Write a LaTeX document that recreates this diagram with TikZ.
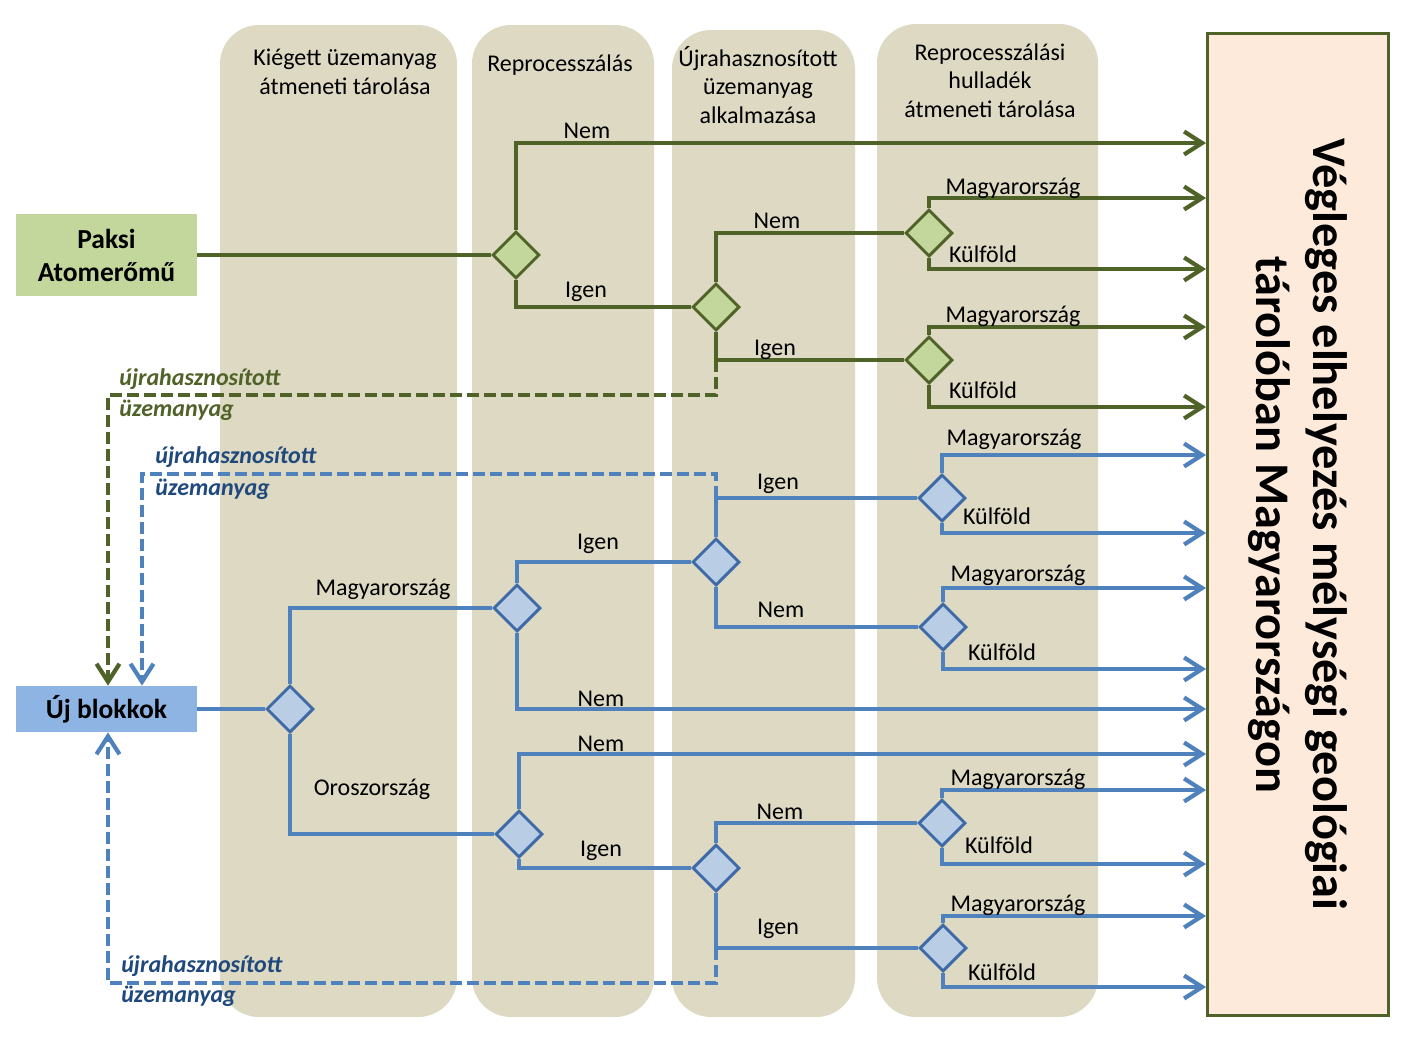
\documentclass[tikz,border=0pt]{standalone}
\usepackage{fontspec}
\setmainfont{Carlito}
\usetikzlibrary{shapes.geometric,arrows.meta}

\definecolor{grn}{HTML}{4F6228}
\definecolor{gfill}{HTML}{C3D69B}
\definecolor{blu}{HTML}{4F81BD}
\definecolor{bdark}{HTML}{3E6AA8}
\definecolor{bfill}{HTML}{B9CDE5}
\definecolor{ubfill}{HTML}{8EB4E3}
\definecolor{btext}{HTML}{1F497D}
\definecolor{colbg}{HTML}{DDD9C3}
\definecolor{vbfill}{HTML}{FDEADA}

\tikzset{
  gline/.style={grn, line width=2.4pt},
  bline/.style={blu, line width=2.4pt},
  gdash/.style={gline, dash pattern=on 0.24cm off 0.1cm},
  bdash/.style={bline, dash pattern=on 0.24cm off 0.1cm},
  arrowend/.style={-{Straight Barb[length=0.36cm,width=0.46cm]}},
  gdia/.style={diamond, draw=grn, fill=gfill, line width=1.7pt, inner sep=0pt,
    minimum width=0.94cm, minimum height=0.94cm},
  bdia/.style={diamond, draw=bdark, fill=bfill, line width=1.7pt, inner sep=0pt,
    minimum width=0.94cm, minimum height=0.94cm},
  lbl/.style={anchor=base, inner sep=0pt, font=\fontsize{13.66}{16.2}\selectfont},
  head/.style={lbl, align=center},
  recyc/.style={anchor=base west, inner sep=0pt, font=\bfseries\itshape\fontsize{13.66}{16.2}\selectfont},
  src/.style={minimum width=3.62cm, align=center, inner sep=0pt,
    font=\bfseries\fontsize{15.65}{18.8}\selectfont}
}

\begin{document}
\begin{tikzpicture}[x=0.02cm,y=-0.02cm]
\useasboundingbox (0,0) rectangle (1428,1049);

% columns
\fill[colbg, rounded corners=0.78cm] (220,25) rectangle (457,1017);
\fill[colbg, rounded corners=0.78cm] (472,25) rectangle (654,1017);
\fill[colbg, rounded corners=0.78cm] (672,30) rectangle (855,1017);
\fill[colbg, rounded corners=0.78cm] (877,24) rectangle (1098,1017);

% headers (base = last line)
\node[head] (h1) at (345,94) {Kiégett üzemanyag\\átmeneti tárolása};
\node[head] (h2) at (560,71) {Reprocesszálás};
\node[head] (h3) at (758,123) {Újrahasznosított\\üzemanyag\\alkalmazása};
\node[head] (h4) at (990,117) {Reprocesszálási\\hulladék\\átmeneti tárolása};

% final storage
\node[rotate=-90, draw=grn, line width=1.7pt, fill=vbfill, minimum width=19.64cm,
  minimum height=3.63cm, align=center,
  font=\bfseries\fontsize{27.5}{32.4}\selectfont] (vb) at (1298.25,524.5)
  {Végleges elhelyezés mélységi geológiai\\tárolóban Magyarországon};

% sources
\node[src, fill=gfill, minimum height=1.66cm] (pa) at (106.5,255) {Paksi\\Atomerőmű};
\node[src, fill=ubfill, minimum height=0.92cm] (ub) at (106.5,709) {Új blokkok};

% decisions
\node[gdia] (d1) at (516,255) {};
\node[gdia] (d2) at (716,307) {};
\node[gdia] (d3) at (929,233) {};
\node[gdia] (d4) at (929,360) {};
\node[bdia] (d5) at (290,709) {};
\node[bdia] (d6) at (517,608) {};
\node[bdia] (d7) at (519,834) {};
\node[bdia] (d8) at (716,562) {};
\node[bdia] (d9) at (942,498) {};
\node[bdia] (d10) at (943,627) {};
\node[bdia] (d11) at (716,868) {};
\node[bdia] (d12) at (942,823) {};
\node[bdia] (d13) at (943,948) {};

% branch levels
\coordinate (g0) at (1000,143);
\coordinate (g3m) at (1000,198);
\coordinate (g3k) at (1000,269);
\coordinate (g4m) at (1000,327);
\coordinate (g4k) at (1000,407);
\coordinate (b9m) at (1000,455);
\coordinate (b9k) at (1000,533);
\coordinate (b10m) at (1000,588);
\coordinate (b10k) at (1000,669);
\coordinate (b6n) at (1000,709);
\coordinate (b7n) at (1000,754);
\coordinate (b12m) at (1000,790);
\coordinate (b12k) at (1000,864);
\coordinate (b13m) at (1000,916);
\coordinate (b13k) at (1000,987);
\coordinate (gr) at (108,395);
\coordinate (br1) at (142,474);
\coordinate (br2) at (108,983);

% green tree
\draw[gline] (pa.east) -- (d1.west);
\draw[gline,arrowend] (d1.north) |- (g0 -| vb.south);
\draw[gline] (d1.south) |- (d2.west);
\draw[gline] (d2.north) |- (d3.west);
\draw[gline] (d2.south) |- (d4.west);
\draw[gline,arrowend] (d3.north) |- (g3m -| vb.south);
\draw[gline,arrowend] (d3.south) |- (g3k -| vb.south);
\draw[gline,arrowend] (d4.north) |- (g4m -| vb.south);
\draw[gline,arrowend] (d4.south) |- (g4k -| vb.south);
\draw[gdash,arrowend] (d2.south |- d4.west) |- (gr) -- (gr |- ub.north);

% blue tree
\draw[bline] (ub.east) -- (d5.west);
\draw[bline] (d5.north) |- (d6.west);
\draw[bline] (d5.south) |- (d7.west);
\draw[bline] (d6.north) |- (d8.west);
\draw[bline,arrowend] (d6.south) |- (b6n -| vb.south);
\draw[bline] (d8.north) |- (d9.west);
\draw[bline] (d8.south) |- (d10.west);
\draw[bline,arrowend] (d9.north) |- (b9m -| vb.south);
\draw[bline,arrowend] (d9.south) |- (b9k -| vb.south);
\draw[bline,arrowend] (d10.north) |- (b10m -| vb.south);
\draw[bline,arrowend] (d10.south) |- (b10k -| vb.south);
\draw[bline,arrowend] (d7.north) |- (b7n -| vb.south);
\draw[bline] (d7.south) |- (d11.west);
\draw[bline] (d11.north) |- (d12.west);
\draw[bline] (d11.south) |- (d13.west);
\draw[bline,arrowend] (d12.north) |- (b12m -| vb.south);
\draw[bline,arrowend] (d12.south) |- (b12k -| vb.south);
\draw[bline,arrowend] (d13.north) |- (b13m -| vb.south);
\draw[bline,arrowend] (d13.south) |- (b13k -| vb.south);
\draw[bdash,arrowend] (d8.north |- d9.west) |- (br1) -- (br1 |- ub.north);
\draw[bdash,arrowend] (d11.south |- d13.west) |- (br2) -- (br2 |- ub.south);

% labels
\node[lbl] (l1) at (587,138) {Nem};
\node[lbl] (l2) at (586,297) {Igen};
\node[lbl] (l3) at (777,228) {Nem};
\node[lbl] (l4) at (775,355) {Igen};
\node[lbl] (l5) at (1013,194) {Magyarország};
\node[lbl] (l6) at (983,262) {Külföld};
\node[lbl] (l7) at (1013,322) {Magyarország};
\node[lbl] (l8) at (983,398) {Külföld};
\node[lbl] (l9) at (383,595) {Magyarország};
\node[lbl] (l10) at (372,795) {Oroszország};
\node[lbl] (l11) at (598,549) {Igen};
\node[lbl] (l12) at (601,706) {Nem};
\node[lbl] (l13) at (601,751) {Nem};
\node[lbl] (l14) at (601,856) {Igen};
\node[lbl] (l15) at (778,489) {Igen};
\node[lbl] (l16) at (781,617) {Nem};
\node[lbl] (l17) at (780,819) {Nem};
\node[lbl] (l18) at (778,934) {Igen};
\node[lbl] (l19) at (1014,445) {Magyarország};
\node[lbl] (l20) at (997,524) {Külföld};
\node[lbl] (l21) at (1018,581) {Magyarország};
\node[lbl] (l22) at (1002,660) {Külföld};
\node[lbl] (l23) at (1018,785) {Magyarország};
\node[lbl] (l24) at (999,853) {Külföld};
\node[lbl] (l25) at (1018,911) {Magyarország};
\node[lbl] (l26) at (1002,980) {Külföld};

\node[recyc, grn] (r1) at (119,385) {újrahasznosított};
\node[recyc, grn] (r2) at (119,416) {üzemanyag};
\node[recyc, btext] (r3) at (155,463) {újrahasznosított};
\node[recyc, btext] (r4) at (155,495) {üzemanyag};
\node[recyc, btext] (r5) at (121,972) {újrahasznosított};
\node[recyc, btext] (r6) at (121,1002) {üzemanyag};
\end{tikzpicture}
\end{document}
